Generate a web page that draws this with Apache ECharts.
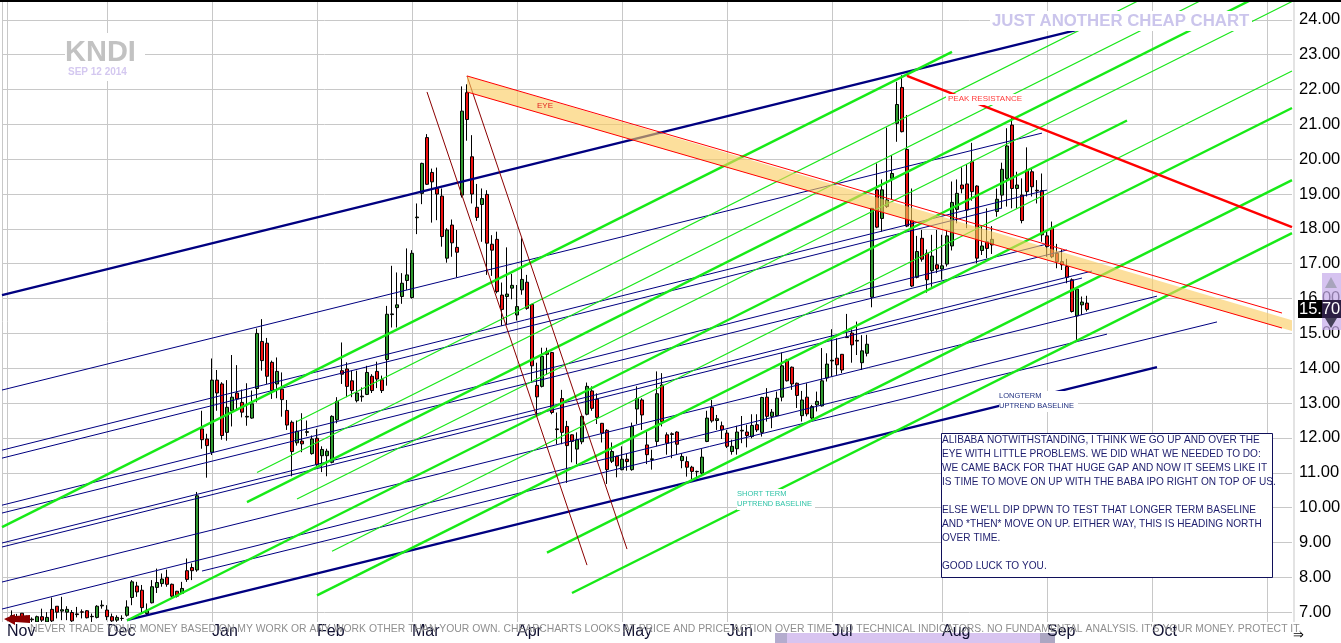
<!DOCTYPE html>
<html>
<head>
<meta charset="utf-8">
<style>html,body{margin:0;padding:0;background:#fff}#c{width:1341px;height:643px}</style>
<script src="https://cdn.jsdelivr.net/npm/echarts@6/dist/echarts.min.js"></script>
</head>
<body>
<div id="c"></div>
<script>
const dayCount = 259;
const monthNames = ['Nov','Dec','Jan','Feb','Mar','Apr','May','Jun','Jul','Aug','Sep','Oct',''];
const monthStarts = [1,21,42,63,82,103,124,145,166,188,209,230,253];
const priceTicks = [7,8,9,10,11,12,13,14,15,16,17,18,19,20,21,22,23,24];
// [open, close, low, high]
const candles = ['-','-',
[6.9,6.75,6.7,7.05],[6.85,6.75,6.7,6.95],[6.97,6.72,6.7,6.97],[6.8,6.75,6.7,6.9],[6.8,6.78,6.7,6.85],
[6.72,6.87,6.7,6.9],[6.87,6.77,6.72,7.1],[6.72,6.85,6.7,7.0],[7.08,6.75,6.7,7.42],[7.17,7.0,6.82,7.17],
[7.03,7.07,6.77,7.44],[7.0,7.08,6.77,7.17],[6.99,6.75,6.72,7.06],[6.95,6.93,6.85,7.15],[7.01,7.0,6.82,7.08],
[7.04,6.84,6.82,7.06],[6.88,6.87,6.72,6.96],[6.85,7.17,6.82,7.2],[7.18,7.2,7.1,7.34],[7.06,6.87,6.77,7.2],
[6.87,6.75,6.72,6.96],[6.77,6.85,6.72,6.91],[6.82,6.82,6.75,6.91],[6.91,7.15,6.87,7.34],[7.42,7.87,7.2,7.92],
[7.75,7.58,7.44,7.87],[7.63,7.13,7.0,7.78],[6.96,7.06,6.91,7.25],[7.27,7.73,7.25,7.92],[7.71,7.85,7.55,8.25],
[7.82,7.95,7.73,8.11],[8.0,7.8,7.73,8.22],[7.8,7.46,7.39,7.82],[7.6,7.46,7.42,7.61],[7.54,7.68,7.54,7.87],
[8.19,7.94,7.87,8.54],[8.28,8.19,7.92,8.4],[8.21,10.34,8.16,10.45],
[12.26,11.95,11.69,12.78],[11.97,11.78,10.86,12.12],[11.59,13.66,11.51,14.28],[13.66,13.29,12.78,13.95],
[13.55,12.07,11.95,13.6],[12.16,12.88,11.92,13.66],[12.78,13.17,12.33,14.38],[13.29,13.12,12.83,14.09],
[13.02,12.74,12.59,13.39],[12.6,12.62,12.35,13.57],[12.57,12.98,12.55,13.36],[13.42,15.0,13.02,15.14],
[14.77,14.22,13.93,15.41],[14.72,13.77,13.55,14.87],[14.17,13.36,13.12,14.22],[13.55,13.91,13.14,14.31],
[13.4,13.1,12.61,13.88],[12.79,12.37,12.23,13.09],[12.45,11.61,10.9,12.5],[11.86,12.19,11.78,12.5],
[11.91,11.83,11.59,12.71],[12.16,12.18,12.05,12.5],[11.55,11.97,11.52,12.07],[11.99,11.24,11.2,12.26],
[11.49,11.67,11.02,11.76],[11.49,11.62,10.9,11.69],[11.3,12.62,11.27,12.65],[12.52,13.05,12.42,13.17],
[13.93,13.83,13.55,14.74],[13.98,13.48,13.17,14.17],[13.64,13.36,13.17,13.93],[13.07,13.29,13.02,13.93],
[13.18,13.2,13.04,13.45],[13.25,13.88,13.23,14.07],[13.77,13.36,13.29,13.83],[13.91,13.69,13.43,14.19],
[13.67,13.36,13.29,13.79],[14.25,15.55,13.5,15.79],[15.54,15.56,15.17,16.94],[15.74,15.82,15.17,16.75],
[16.06,16.44,15.85,16.73],[16.52,16.68,16.25,17.44],[16.03,17.3,16.0,17.39],[18.32,18.34,17.85,18.73],
[19.02,19.88,18.71,19.9],[20.62,19.28,19.26,20.72],[19.62,19.35,18.18,19.73],[19.16,19.0,18.25,19.76],
[18.94,17.78,17.49,19.16],[17.16,17.97,17.03,18.02],[18.11,17.6,17.2,18.27],[17.47,17.33,16.61,17.97],
[18.97,21.38,18.9,22.09],[21.91,21.14,20.53,22.15],[20.07,19.0,18.73,20.69],[18.62,18.33,18.23,19.29],
[18.7,18.87,17.63,19.16],[18.99,17.59,16.68,19.11],[17.56,17.39,16.65,17.82],[17.7,16.2,16.15,17.92],
[16.1,15.69,15.22,16.46],[16.06,16.13,15.25,17.47],[16.3,16.38,15.98,16.71],[15.53,15.77,15.37,16.39],
[16.25,16.55,16.11,17.73],[16.47,15.72,15.68,16.68],[15.83,14.07,13.59,15.85],[13.51,13.18,12.65,14.16],
[13.48,14.34,13.45,14.59],[14.48,14.4,13.81,14.59],[14.45,12.73,12.68,14.47],[12.26,12.24,11.82,12.73],
[13.13,12.16,11.82,13.38],[12.33,11.78,10.71,12.49],[12.09,11.9,11.3,12.1],[11.68,11.95,11.25,12.16],
[11.89,12.62,11.82,12.65],[12.68,13.48,12.65,13.59],[13.35,12.85,12.78,13.48],[13.11,12.59,12.4,13.28],
[12.42,12.14,11.87,12.43],[12.22,11.09,10.68,12.25],[11.33,11.61,11.28,11.87],[11.47,11.2,10.87,11.49],
[11.09,11.39,11.07,11.76],[11.39,11.32,11.06,11.54],[11.09,12.33,11.06,12.44],[12.83,13.13,12.4,13.48],
[13.09,12.66,12.23,13.14],[11.8,11.52,11.25,12.19],[11.38,11.4,11.09,11.66],[11.9,13.27,11.76,13.91],
[13.52,12.47,12.33,13.86],[12.09,11.85,11.52,12.16],[12.12,12.1,11.42,12.16],[12.17,11.82,11.52,12.19],
[11.35,11.47,11.13,11.56],[11.32,11.16,10.89,11.47],[11.16,11.04,10.82,11.2],[11.03,11.04,10.88,11.06],
[10.99,11.45,10.94,11.68],[11.9,12.57,11.88,12.78],[12.88,12.49,12.44,13.09],[12.5,12.55,12.23,12.66],
[12.35,12.23,11.97,12.47],[12.14,11.76,11.71,12.23],[11.61,11.76,11.52,11.95],[11.69,12.17,11.52,12.35],
[12.2,12.22,11.85,12.63],[12.17,12.07,11.73,12.38],[12.04,12.36,11.99,12.68],[12.38,12.23,12.17,12.68],
[12.16,13.16,12.04,13.18],[13.17,12.62,12.47,13.43],[12.62,12.74,12.28,12.83],[12.64,13.14,12.62,13.33],
[13.17,14.07,13.05,14.45],[14.24,13.64,13.62,14.27],[14.03,13.55,13.38,14.05],[13.57,13.22,12.86,13.59],
[12.64,13.09,12.47,13.35],[13.17,12.69,12.62,13.57],[12.57,12.9,12.52,12.95],[12.95,13.05,12.76,13.33],
[12.92,13.64,12.9,14.58],[13.72,14.12,13.62,14.43],[14.21,14.23,13.76,15.12],[14.29,14.1,13.81,14.86],
[14.4,13.95,13.86,14.41],[14.9,14.88,14.87,15.56],[15.01,14.67,14.16,15.12],[14.78,14.8,14.38,15.34],
[14.16,14.5,13.95,14.95],[14.43,14.69,14.34,14.96],[16.04,18.59,15.75,18.6],[19.12,18.05,18.02,19.88],
[18.3,19.12,17.92,19.42],[18.64,18.83,18.6,20.91],[19.45,19.59,18.83,20.12],[21.03,21.57,20.5,22.22],
[22.06,20.79,20.77,22.41],[20.28,18.08,18.05,21.27],[18.24,16.36,16.33,19.16],[16.61,17.35,16.58,17.8],
[17.73,17.13,17.06,17.97],[17.3,16.54,16.17,17.41],[16.8,17.22,16.34,17.83],[16.97,16.85,16.73,17.97],
[16.85,16.94,16.54,17.83],[16.99,17.8,16.92,17.97],[17.51,18.76,17.38,19.36],[18.56,19.02,18.16,19.42],
[19.26,19.15,19.02,19.77],[19.29,18.54,18.02,19.86],[19.93,19.07,18.81,20.47],[19.23,17.16,17.01,19.25],
[17.38,17.51,17.25,18.11],[17.63,17.44,17.16,18.59],[17.54,17.7,17.28,18.08],[18.5,18.85,18.35,19.16],
[18.97,19.71,18.59,19.9],[19.45,20.38,18.64,20.89],[20.98,19.16,18.59,21.22],[19.16,19.26,18.59,19.64],
[18.97,18.24,18.16,19.45],[19.69,19.07,18.93,20.34],[19.64,19.21,18.93,19.74],[19.11,19.09,18.73,19.4],
[19.1,17.83,17.63,19.59],[17.8,17.49,17.2,17.92],[18.02,17.2,17.16,18.21],[17.3,17.06,16.87,17.57],
[17.06,16.97,16.82,17.41],[16.92,16.61,16.44,17.14],[16.54,15.63,15.6,16.58],[15.5,16.27,14.81,16.29],
[15.82,15.9,15.53,16.06],[15.87,15.69,15.63,16.08]];
// trend lines: [startDay, startPrice, endDay, endPrice]
const thickNavy = [[0,16.10,215,23.71],[25,6.77,231,14.035]];
const thinNavy = [[0,13.375,208,20.75],[0,11.65,209,19.115],[0,11.42,200,18.60],[0,10.07,209,17.565],
[0,9.845,213,17.395],[0,8.985,218,16.79],[0,8.87,216,16.59],[0,7.865,231,16.07],[0,7.09,221,14.98],[40,8.18,243,15.33]];
const thickGreen = [[0,9.44,190,23.08],[49,10.16,253,24.80],[25,6.76,225,21.11],[63,7.48,258,21.47],
[109,8.71,258,19.40],[114,7.55,258,17.88]];
const thinGreen = [[59,12.47,228,24.60],[51,11.01,240,24.57],[59,10.25,258,24.526],[66,8.75,258,22.53]];
const peakLine = [[181,22.39,258,18.05]];
const eyeEdges = [[93,22.39,256,15.585],[93,21.93,256,15.155]];
const eyeBand = [[93,22.39],[258,15.38],[258,15.07],[93,21.93]];
const fallLines = [[85,21.93,117,8.35],[93,22.39,125,8.81]];
const lastPrice = '15.70';
const noteLines = ['ALIBABA NOTWITHSTANDING, I THINK WE GO UP AND OVER THE','EYE WITH LITTLE PROBLEMS. WE DID WHAT WE NEEDED TO DO:',
'WE CAME BACK FOR THAT HUGE GAP AND NOW IT SEEMS LIKE IT','IS TIME TO MOVE ON UP WITH THE BABA IPO RIGHT ON TOP OF US.','',
"ELSE WE'LL DIP DPWN TO TEST THAT LONGER TERM BASELINE",'AND *THEN* MOVE ON UP. EITHER WAY, THIS IS HEADING NORTH','OVER TIME.','','GOOD LUCK TO YOU.'];
const disclaimer = "NEVER TRADE YOUR MONEY BASED ON MY WORK OR ANY WORK OTHER THAN YOUR OWN. CHEAPCHARTS LOOKS AT PRICE AND PRICE ACTION OVER TIME. NO TECHNICAL INDICATORS. NO FUNDAMENTAL ANALYSIS. IT'S YOUR MONEY. PROTECT IT.";

const categories = [];
for (let i = 0; i < dayCount; i++) {
  const m = monthStarts.indexOf(i);
  categories.push(m >= 0 ? monthNames[m] : 'd' + i);
}
const isMonth = i => monthStarts.indexOf(i) >= 0;
const F = 'Liberation Sans, Arial, sans-serif';

function lineSeries(list, color, width, z) {
  return list.map(l => ({
    type: 'line', silent: true, animation: false, showSymbol: false, symbol: 'none', z: z,
    data: [[l[0], l[1]], [l[2], l[3]]],
    lineStyle: { color: color, width: width }
  }));
}
const series = [{
  type: 'candlestick', data: candles, barWidth: 4, z: 2, silent: true, animation: false,
  itemStyle: { color: '#2f9a2f', color0: '#f01010', borderColor: '#000', borderColor0: '#000', borderColorDoji: '#000', borderWidth: 1 }
}].concat(
  lineSeries(thinNavy, '#000080', 1, 3),
  lineSeries(thickNavy, '#000080', 2.4, 3),
  lineSeries(thinGreen, '#18e618', 1.2, 3),
  lineSeries(thickGreen, '#18ea18', 2.4, 3),
  lineSeries(fallLines, '#8b0000', 1, 3),
  [{
    type: 'custom', silent: true, animation: false, z: 4, clip: true, coordinateSystem: 'cartesian2d',
    data: [[93, 22]],
    encode: { x: 0, y: 1 },
    renderItem: function (params, api) {
      return { type: 'polygon', shape: { points: eyeBand.map(p => api.coord(p)) },
               style: { fill: 'rgba(250,204,96,0.62)' } };
    }
  }],
  lineSeries(eyeEdges, '#ff0000', 1, 5),
  lineSeries(peakLine, '#ff0000', 2.4, 5)
);

function box(x, y, w, h, fill, z, stroke) {
  return { type: 'rect', z: z, shape: { x: x, y: y, width: w, height: h }, style: { fill: fill, stroke: stroke || null, lineWidth: stroke ? 1 : 0 }, silent: true };
}
function label(x, y, text, font, color, z, align) {
  return { type: 'text', x: x, y: y, z: z || 8, silent: true,
    style: { text: text, font: font, fill: color, textAlign: align || 'left', textVerticalAlign: 'middle' } };
}
const gfx = [
  box(0, 622, 1295, 21, '#fff', 5),
  box(1293.5, 0, 1, 622, '#c8c8c8', 4),
  box(775, 633, 280, 10, '#d8c4f0', 6),
  box(775, 633, 12, 10, '#b4acce', 6),
  box(1040, 633, 15, 10, '#aca6c2', 6),
  box(0, 0, 1341, 2, '#000', 9),
  box(65, 33, 80, 48, '#fff', 6),
  label(65, 53, 'KNDI', 'bold 29px ' + F, '#c2c2c2'),
  label(68, 72, 'SEP 12 2014', 'bold 10px ' + F, '#d4c8f0'),
  box(990, 11, 262, 20, '#fff', 6),
  label(992, 21, 'JUST ANOTHER CHEAP CHART', 'bold 16.8px ' + F, '#cbc5ec'),
  label(537, 106, 'EYE', '8px ' + F, '#e02020'),
  box(946, 94, 76, 11, '#fff', 6),
  label(948, 99, 'PEAK RESISTANCE', '8px ' + F, '#ff3b3b'),
  box(999, 391, 79, 21, '#fff', 6),
  label(999, 396, 'LONGTERM', '7.5px ' + F, '#203080'),
  label(999, 406, 'UPTREND BASELINE', '7.5px ' + F, '#203080'),
  box(737, 489, 78, 21, '#fff', 6),
  label(737, 494, 'SHORT TERM', '7.5px ' + F, '#30c4a8'),
  label(737, 504, 'UPTREND BASELINE', '7.5px ' + F, '#30c4a8'),
  box(941.5, 433.5, 331, 144, '#fff', 6, '#10105a'),
  { type: 'polygon', z: 7, silent: true, shape: { points: [[4,619],[15,614],[15,616],[30,615],[30,623],[15,622],[15,625]] }, style: { fill: '#8b0000' } },
  label(30, 629, disclaimer, '10.4px ' + F, '#8f8f8f', 20),
  box(1322, 273, 19, 57, 'rgba(198,172,234,0.72)', 10),
  box(1298, 300, 24, 18, '#000', 11),
  box(1322, 300, 19, 18, '#2c1f44', 11),
  label(1299, 309.5, lastPrice, '16.5px ' + F, '#fff', 12),
  { type: 'polygon', z: 14, silent: true, shape: { points: [[1331,277],[1325,288],[1337,288]] }, style: { fill: '#a8a4bc' } },
  { type: 'polygon', z: 14, silent: true, shape: { points: [[1331,328],[1325,318],[1337,318]] }, style: { fill: '#46425a' } },
  label(1293, 636, '⇒', '13px DejaVu Sans', '#000', 8)
];
noteLines.forEach((t, i) => { if (t) gfx.push(label(942, 440 + i * 14, t, '10.1px ' + F, '#1e1e6e')); });

const chart = echarts.init(document.getElementById('c'), null, { renderer: 'canvas' });
chart.setOption({
  animation: false,
  backgroundColor: '#fff',
  grid: { left: 2, top: -15, width: 1290, height: 662, containLabel: false, outerBoundsMode: 'none' },
  tooltip: { show: false },
  xAxis: [{
    type: 'category', data: categories, boundaryGap: false, position: 'bottom',
    axisLine: { show: false }, axisTick: { show: false }, axisLabel: { show: false },
    splitLine: { show: true, interval: (i) => i === 0 || isMonth(i), lineStyle: { color: '#c8c8c8', width: 1 } }
  }, {
    type: 'category', data: categories, boundaryGap: false, position: 'bottom', z: 10,
    axisLine: { show: false }, axisTick: { show: false }, splitLine: { show: false },
    axisLabel: { show: true, inside: true, margin: 7, interval: (i) => isMonth(i), align: 'left',
      formatter: (v) => v.charAt(0) === 'd' ? '' : v, color: '#101030', fontSize: 16, fontFamily: F, hideOverlap: false }
  }],
  yAxis: {
    type: 'value', min: 6, max: 25, interval: 1, position: 'right',
    axisLine: { show: false }, axisTick: { show: false },
    splitLine: { show: true, lineStyle: { color: '#c8c8c8', width: 1 } },
    axisLabel: { margin: 7, color: '#000', fontSize: 16.5, fontFamily: F,
      formatter: (v) => priceTicks.indexOf(v) >= 0 ? v.toFixed(2) : '' }
  },
  series: series,
  graphic: { elements: gfx }
});
</script>
</body>
</html>
